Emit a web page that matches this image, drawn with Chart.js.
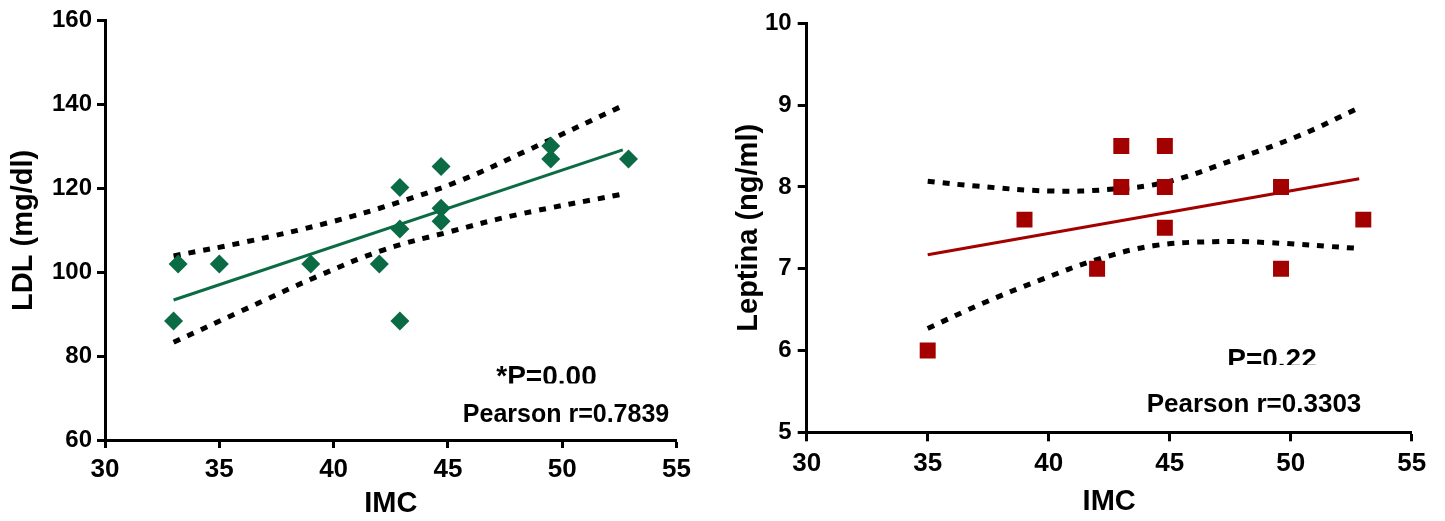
<!DOCTYPE html>
<html>
<head>
<meta charset="utf-8">
<script src="https://cdn.jsdelivr.net/npm/chart.js@4.4.1/dist/chart.umd.min.js"></script>
<style>
  html, body { margin: 0; padding: 0; background: #ffffff; }
  #wrap { position: relative; width: 1445px; height: 521px; overflow: hidden; background: #fff; }
  canvas { position: absolute; top: 0; }
  #c1 { left: 0; }
  #c2 { left: 720px; }
</style>
</head>
<body>
<div id="wrap">
  <canvas id="c1" width="720" height="521"></canvas>
  <canvas id="c2" width="725" height="521"></canvas>
</div>
<script>
// ---------- Left panel: LDL vs IMC ----------
const ldlImc = [33.0, 33.2, 35.0, 39.0, 42.0, 42.9, 42.9, 42.9, 44.7, 44.7, 44.7, 49.5, 49.5, 52.9];
const ldlValues = [88.4, 102, 102, 102, 102, 120.2, 110.3, 88.4, 125.2, 115.3, 112.2, 130.1, 127, 127];
const ldlFitX = [33.0, 52.65];
const ldlFitY = [93.4, 129.2];
const ldlUpperX = [33.0, 36.2, 39.75, 42.9, 45.6, 48.37, 52.6];
const ldlUpperY = [103.9, 107.3, 111.8, 116.8, 122.0, 128.8, 139.6];
const ldlLowerX = [33.0, 35.9, 39.26, 42.17, 45.1, 48.0, 52.6];
const ldlLowerY = [83.3, 90.6, 98.95, 105.3, 109.7, 113.7, 118.6];
const ldlXTicks = [30, 35, 40, 45, 50, 55];
const ldlYTicks = [60, 80, 100, 120, 140, 160];

// ---------- Right panel: Leptina vs IMC ----------
const lepImc = [35.0, 39.0, 42.0, 43.0, 43.0, 44.8, 44.8, 44.8, 49.6, 49.6, 53.0];
const lepValues = [6.0, 7.6, 7.0, 8.5, 8.0, 8.5, 8.0, 7.5, 8.0, 7.0, 7.6];
const lepFitX = [35.0, 52.83];
const lepFitY = [7.17, 8.1];
const lepUpperX = [35.0, 37.0, 40.05, 42.53, 44.88, 47.63, 50.38, 52.7];
const lepUpperY = [8.07, 8.01, 7.95, 7.97, 8.06, 8.33, 8.63, 8.95];
const lepLowerX = [35.0, 37.3, 39.64, 41.98, 44.32, 46.8, 49.0, 52.7];
const lepLowerY = [6.27, 6.58, 6.86, 7.11, 7.28, 7.33, 7.32, 7.25];
const lepXTicks = [30, 35, 40, 45, 50, 55];
const lepYTicks = [5, 6, 7, 8, 9, 10];

const GREEN = '#0b6b45';
const RED = '#a30000';
const FONT = '"Liberation Sans", Arial, Helvetica, sans-serif';

function pts(xs, ys) { return xs.map((x, i) => ({ x: x, y: ys[i] })); }

function bandDataset(xs, ys) {
  return {
    type: 'line', data: pts(xs, ys), borderColor: '#000', borderWidth: 5,
    borderDash: [7, 8], borderCapStyle: 'butt', pointRadius: 0, tension: 0.4,
    fill: false, order: 2
  };
}

const annotate = {
  id: 'annotate',
  afterDraw(chart, args, opts) {
    const ctx = chart.ctx;
    (opts.items || []).forEach(it => {
      ctx.save();
      if (it.clipBottom) {
        ctx.beginPath();
        ctx.rect(0, 0, chart.width, it.clipBottom);
        ctx.clip();
      }
      ctx.font = 'bold ' + it.size + 'px ' + FONT;
      ctx.fillStyle = '#000';
      ctx.textAlign = 'center';
      ctx.textBaseline = 'alphabetic';
      ctx.fillText(it.text, it.x, it.y);
      ctx.restore();
    });
  }
};

function makeChart(id, cfg) {
  const xs = cfg.xTicks, ys = cfg.yTicks;
  return new Chart(document.getElementById(id), {
    type: 'scatter',
    data: {
      datasets: [
        {
          data: pts(cfg.px, cfg.py), pointStyle: cfg.marker, pointRadius: cfg.radius,
          pointHoverRadius: cfg.radius, backgroundColor: cfg.color, borderColor: cfg.color,
          borderWidth: 0, order: 0
        },
        {
          type: 'line', data: pts(cfg.fitX, cfg.fitY), borderColor: cfg.color, borderWidth: 3,
          pointRadius: 0, fill: false, order: 1
        },
        bandDataset(cfg.upX, cfg.upY),
        bandDataset(cfg.loX, cfg.loY)
      ]
    },
    options: {
      responsive: false,
      animation: false,
      events: [],
      layout: { padding: cfg.padding },
      plugins: {
        legend: { display: false },
        tooltip: { enabled: false },
        annotate: { items: cfg.notes }
      },
      scales: {
        x: {
          type: 'linear', min: xs[0], max: xs[xs.length - 1],
          afterBuildTicks: s => { s.ticks = xs.map(v => ({ value: v })); },
          afterFit: s => { s.height = cfg.xHeight; },
          border: { display: true, color: '#000', width: 3 },
          grid: { display: true, drawOnChartArea: false, drawTicks: true, tickLength: cfg.tickLen, tickWidth: 3, tickColor: '#000' },
          ticks: { color: '#000', padding: cfg.xPad, maxRotation: 0, font: { family: FONT, size: 26, weight: 'bold', lineHeight: 1.2 } },
          title: { display: true, text: 'IMC', color: '#000', padding: { top: 0, bottom: cfg.xTitlePad }, font: { family: FONT, size: 29, weight: 'bold', lineHeight: 1.0 } }
        },
        y: {
          type: 'linear', min: ys[0], max: ys[ys.length - 1],
          afterBuildTicks: s => { s.ticks = ys.map(v => ({ value: v })); },
          afterFit: s => { s.width = cfg.yWidth; },
          border: { display: true, color: '#000', width: 3 },
          grid: { display: true, drawOnChartArea: false, drawTicks: true, tickLength: cfg.tickLen, tickWidth: 3, tickColor: '#000' },
          ticks: { color: '#000', padding: cfg.yPad, font: { family: FONT, size: 24, weight: 'bold', lineHeight: 1.2 } },
          title: { display: true, text: cfg.yTitle, color: '#000', padding: { top: cfg.yTitlePad, bottom: 0 }, font: { family: FONT, size: 29, weight: 'bold', lineHeight: 1.2 } }
        }
      }
    },
    plugins: [annotate]
  });
}

makeChart('c1', {
  px: ldlImc, py: ldlValues, fitX: ldlFitX, fitY: ldlFitY,
  upX: ldlUpperX, upY: ldlUpperY, loX: ldlLowerX, loY: ldlLowerY,
  xTicks: ldlXTicks, yTicks: ldlYTicks,
  marker: 'rectRot', radius: 9.5, color: GREEN,
  padding: { left: 0, top: 20.7, right: 43.5, bottom: 0 },
  yWidth: 105, xHeight: 81, tickLen: 8, xPad: 6, yPad: 5,
  xTitlePad: 3, yTitlePad: 7,
  yTitle: 'LDL (mg/dl)',
  notes: [
    { text: '*P=0.00', x: 546.5, y: 385, size: 28, clipBottom: 383.5 },
    { text: 'Pearson r=0.7839', x: 566, y: 421.5, size: 25 }
  ]
});

makeChart('c2', {
  px: lepImc, py: lepValues, fitX: lepFitX, fitY: lepFitY,
  upX: lepUpperX, upY: lepUpperY, loX: lepLowerX, loY: lepLowerY,
  xTicks: lepXTicks, yTicks: lepYTicks,
  marker: 'rect', radius: 11.3, color: RED,
  padding: { left: 0, top: 23.3, right: 33.3, bottom: 0 },
  yWidth: 86.7, xHeight: 88.7, tickLen: 9, xPad: 7, yPad: 6,
  xTitlePad: 5, yTitlePad: 12,
  yTitle: 'Leptina (ng/ml)',
  notes: [
    { text: 'P=0.22', x: 552, y: 368.3, size: 28, clipBottom: 365 },
    { text: 'Pearson r=0.3303', x: 534, y: 411.7, size: 26 }
  ]
});
</script>
</body>
</html>
